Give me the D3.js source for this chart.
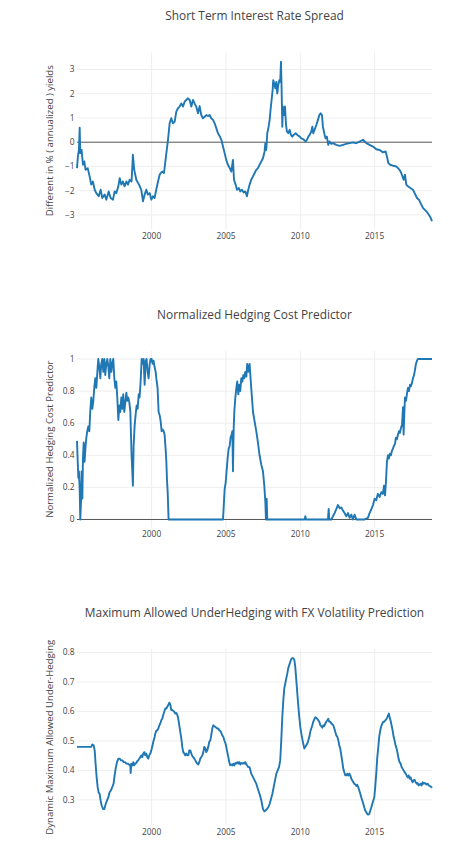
<!DOCTYPE html>
<html><head><meta charset="utf-8">
<script src="https://cdn.jsdelivr.net/npm/d3@7"></script>
<style>html,body{margin:0;padding:0;background:#fff;} svg{display:block;font-family:"Open Sans",sans-serif;}</style>
</head><body><svg id="c" width="474" height="857"></svg>
<script>
const xTickYears = [2000, 2005, 2010, 2015];
const chartTitles = ["Short Term Interest Rate Spread", "Normalized Hedging Cost Predictor", "Maximum Allowed UnderHedging with FX Volatility Prediction"];
const yAxisTitles = ["Different in % ( annualized ) yields", "Normalized Hedging Cost Predictor", "Dynamic Maximum Allowed Under-Hedging"];
const spreadTicks = [-3, -2, -1, 0, 1, 2, 3];
const hedgeTicks = [0, 0.2, 0.4, 0.6, 0.8, 1];
const underTicks = [0.3, 0.4, 0.5, 0.6, 0.7, 0.8];

const spreadData = [[1994.98,-1.07],[1995.04,-0.59],[1995.11,-0.32],[1995.16,0.60],[1995.20,-0.45],[1995.29,-0.32],[1995.38,-0.93],[1995.47,-0.79],[1995.56,-1.14],[1995.70,-1.07],[1995.83,-1.41],[1995.94,-1.75],[1996.05,-1.62],[1996.17,-1.96],[1996.28,-2.10],[1996.44,-2.23],[1996.57,-1.96],[1996.68,-2.30],[1996.84,-2.16],[1996.95,-2.37],[1997.11,-2.03],[1997.24,-2.30],[1997.40,-2.37],[1997.51,-2.03],[1997.62,-2.10],[1997.76,-1.82],[1997.85,-1.48],[1997.96,-1.75],[1998.07,-1.62],[1998.18,-1.82],[1998.30,-1.62],[1998.41,-1.75],[1998.52,-1.55],[1998.65,-1.62],[1998.74,-0.52],[1998.83,-1.14],[1998.97,-1.55],[1999.15,-1.75],[1999.30,-1.96],[1999.42,-2.44],[1999.53,-2.16],[1999.64,-1.96],[1999.75,-2.16],[1999.87,-2.10],[1999.98,-2.37],[2000.09,-2.23],[2000.20,-2.30],[2000.31,-1.96],[2000.43,-1.62],[2000.54,-1.34],[2000.70,-1.21],[2000.83,-1.27],[2000.99,-0.45],[2001.10,0.10],[2001.21,0.78],[2001.32,0.99],[2001.43,0.78],[2001.55,0.85],[2001.66,1.26],[2001.77,1.40],[2001.88,1.47],[2002.00,1.60],[2002.11,1.47],[2002.22,1.67],[2002.33,1.74],[2002.44,1.81],[2002.56,1.74],[2002.67,1.47],[2002.78,1.74],[2002.89,1.60],[2003.00,1.47],[2003.12,1.19],[2003.23,1.49],[2003.34,1.12],[2003.45,0.99],[2003.57,1.05],[2003.68,1.12],[2003.79,1.08],[2003.90,1.12],[2004.01,0.99],[2004.13,0.92],[2004.24,0.78],[2004.35,0.58],[2004.46,0.37],[2004.57,0.26],[2004.69,0.10],[2004.80,-0.18],[2004.91,-0.45],[2005.02,-0.73],[2005.13,-0.93],[2005.25,-1.07],[2005.36,-1.21],[2005.47,-0.73],[2005.54,-1.55],[2005.65,-1.75],[2005.74,-1.96],[2005.87,-1.89],[2005.96,-2.03],[2006.08,-1.96],[2006.19,-2.07],[2006.30,-2.03],[2006.41,-2.23],[2006.50,-1.96],[2006.59,-1.75],[2006.70,-1.55],[2006.82,-1.41],[2006.93,-1.27],[2007.04,-1.14],[2007.15,-1.07],[2007.26,-0.93],[2007.38,-0.79],[2007.49,-0.66],[2007.60,-0.38],[2007.65,-0.04],[2007.71,-0.32],[2007.78,0.37],[2007.87,0.64],[2007.94,0.92],[2008.00,1.33],[2008.07,1.74],[2008.14,2.15],[2008.18,2.56],[2008.25,2.42],[2008.32,2.22],[2008.39,2.49],[2008.45,2.01],[2008.52,2.36],[2008.59,2.56],[2008.65,2.49],[2008.70,3.32],[2008.74,2.29],[2008.79,0.64],[2008.83,1.47],[2008.90,1.12],[2008.97,1.47],[2009.04,0.71],[2009.10,0.44],[2009.19,0.37],[2009.28,0.51],[2009.37,0.30],[2009.46,0.23],[2009.55,0.30],[2009.69,0.37],[2009.80,0.30],[2009.96,0.23],[2010.07,0.16],[2010.22,0.12],[2010.36,0.03],[2010.45,0.10],[2010.54,0.23],[2010.63,0.30],[2010.74,0.44],[2010.81,0.64],[2010.87,0.37],[2010.96,0.51],[2011.08,0.71],[2011.19,0.92],[2011.28,1.12],[2011.37,1.19],[2011.46,1.12],[2011.52,0.64],[2011.64,0.30],[2011.70,0.16],[2011.79,0.23],[2011.88,-0.11],[2011.97,0.03],[2012.09,-0.07],[2012.20,-0.04],[2012.42,-0.11],[2012.65,-0.15],[2012.87,-0.11],[2013.09,-0.07],[2013.32,-0.04],[2013.54,-0.01],[2013.77,-0.04],[2013.99,0.03],[2014.22,0.10],[2014.33,0.03],[2014.44,-0.04],[2014.66,-0.11],[2014.89,-0.18],[2015.11,-0.29],[2015.34,-0.32],[2015.56,-0.42],[2015.74,-0.38],[2015.83,-0.59],[2015.92,-0.86],[2016.05,-0.93],[2016.23,-0.97],[2016.46,-1.00],[2016.68,-1.14],[2016.79,-1.27],[2016.95,-1.55],[2017.04,-1.34],[2017.13,-1.75],[2017.24,-1.82],[2017.40,-1.89],[2017.58,-1.96],[2017.69,-2.10],[2017.85,-2.30],[2017.98,-2.37],[2018.09,-2.51],[2018.25,-2.71],[2018.48,-2.85],[2018.65,-2.99],[2018.77,-3.12],[2018.86,-3.26]];

const hedgeData = [[1994.98,0.49],[1995.02,0.38],[1995.07,0.26],[1995.11,0.30],[1995.16,0.19],[1995.20,0],[1995.25,0.11],[1995.29,0.30],[1995.34,0.13],[1995.38,0.38],[1995.43,0.48],[1995.49,0.36],[1995.56,0.46],[1995.61,0.51],[1995.67,0.55],[1995.74,0.58],[1995.81,0.55],[1995.87,0.67],[1995.94,0.76],[1996.01,0.69],[1996.08,0.74],[1996.14,0.82],[1996.21,0.88],[1996.28,0.82],[1996.35,0.92],[1996.41,1.00],[1996.48,0.95],[1996.55,0.88],[1996.61,0.97],[1996.68,1.00],[1996.75,0.92],[1996.82,1.00],[1996.88,0.90],[1996.95,0.97],[1997.02,1.00],[1997.09,0.95],[1997.15,0.88],[1997.22,1.00],[1997.29,0.92],[1997.35,0.97],[1997.42,1.00],[1997.49,0.88],[1997.56,0.82],[1997.62,0.86],[1997.69,0.76],[1997.76,0.62],[1997.83,0.71],[1997.89,0.67],[1997.96,0.76],[1998.03,0.69],[1998.09,0.78],[1998.16,0.67],[1998.23,0.73],[1998.30,0.79],[1998.36,0.74],[1998.43,0.76],[1998.50,0.73],[1998.57,0.67],[1998.61,0.53],[1998.65,0.40],[1998.70,0.30],[1998.74,0.21],[1998.79,0.46],[1998.86,0.59],[1998.92,0.65],[1998.99,0.71],[1999.06,0.69],[1999.13,0.78],[1999.19,0.76],[1999.26,0.86],[1999.33,1.00],[1999.39,0.97],[1999.46,1.00],[1999.53,0.84],[1999.60,0.99],[1999.66,1.00],[1999.73,0.92],[1999.80,0.88],[1999.87,0.97],[1999.93,1.00],[2000.00,1.00],[2000.07,0.97],[2000.13,0.99],[2000.20,0.95],[2000.27,0.92],[2000.34,0.86],[2000.40,0.82],[2000.47,0.67],[2000.54,0.65],[2000.61,0.61],[2000.67,0.55],[2000.74,0.56],[2000.81,0.55],[2000.87,0.53],[2000.94,0.44],[2000.99,0.36],[2001.03,0.25],[2001.08,0.17],[2001.10,0.11],[2001.14,0],[2004.80,0],[2004.84,0.065],[2004.91,0.19],[2004.98,0.23],[2005.04,0.30],[2005.11,0.38],[2005.18,0.44],[2005.25,0.46],[2005.31,0.51],[2005.38,0.53],[2005.43,0.55],[2005.47,0.30],[2005.52,0.57],[2005.56,0.67],[2005.63,0.76],[2005.70,0.82],[2005.76,0.86],[2005.83,0.78],[2005.90,0.84],[2005.96,0.80],[2006.03,0.88],[2006.10,0.86],[2006.17,0.90],[2006.23,0.88],[2006.30,0.92],[2006.37,0.89],[2006.43,0.97],[2006.50,0.92],[2006.59,0.97],[2006.70,0.82],[2006.82,0.67],[2006.93,0.61],[2007.04,0.55],[2007.15,0.48],[2007.26,0.40],[2007.38,0.34],[2007.49,0.30],[2007.58,0.21],[2007.65,0.11],[2007.69,0],[2007.74,0.13],[2007.78,0],[2010.29,0],[2010.34,0.02],[2010.38,0],[2011.86,0],[2011.91,0.065],[2011.95,0],[2012.09,0],[2012.20,0.02],[2012.31,0.04],[2012.42,0.065],[2012.53,0.09],[2012.65,0.07],[2012.76,0.075],[2012.87,0.055],[2012.98,0.04],[2013.09,0.02],[2013.21,0.04],[2013.32,0.01],[2013.43,0.03],[2013.54,0],[2013.65,0.03],[2013.77,0],[2014.33,0],[2014.55,0.01],[2014.66,0.04],[2014.78,0.065],[2014.89,0.09],[2015.00,0.13],[2015.11,0.12],[2015.22,0.16],[2015.34,0.14],[2015.45,0.17],[2015.56,0.16],[2015.63,0.21],[2015.70,0.15],[2015.76,0.23],[2015.83,0.36],[2015.90,0.40],[2015.96,0.38],[2016.03,0.41],[2016.10,0.40],[2016.17,0.43],[2016.23,0.44],[2016.30,0.46],[2016.37,0.47],[2016.43,0.51],[2016.50,0.50],[2016.57,0.53],[2016.64,0.55],[2016.70,0.54],[2016.77,0.57],[2016.84,0.59],[2016.91,0.70],[2016.95,0.53],[2017.00,0.67],[2017.04,0.76],[2017.11,0.74],[2017.17,0.78],[2017.24,0.82],[2017.31,0.80],[2017.38,0.84],[2017.44,0.83],[2017.51,0.85],[2017.58,0.88],[2017.65,0.90],[2017.71,0.93],[2017.78,0.97],[2017.85,0.99],[2017.91,1.00],[2018.86,1.00]];

const underData = [[1994.98,0.480],[1995.94,0.480],[1996.01,0.488],[1996.10,0.485],[1996.17,0.468],[1996.23,0.423],[1996.30,0.377],[1996.37,0.343],[1996.43,0.326],[1996.50,0.320],[1996.57,0.298],[1996.64,0.281],[1996.73,0.269],[1996.82,0.269],[1996.91,0.286],[1997.00,0.298],[1997.09,0.309],[1997.17,0.326],[1997.26,0.332],[1997.35,0.343],[1997.44,0.355],[1997.51,0.383],[1997.58,0.406],[1997.67,0.428],[1997.76,0.440],[1997.85,0.440],[1997.94,0.434],[1998.03,0.434],[1998.12,0.428],[1998.21,0.428],[1998.30,0.423],[1998.39,0.423],[1998.48,0.420],[1998.57,0.414],[1998.59,0.391],[1998.63,0.423],[1998.70,0.417],[1998.77,0.428],[1998.83,0.417],[1998.90,0.423],[1998.97,0.425],[1999.04,0.432],[1999.10,0.434],[1999.17,0.440],[1999.24,0.445],[1999.30,0.451],[1999.37,0.445],[1999.44,0.457],[1999.51,0.462],[1999.57,0.451],[1999.64,0.457],[1999.71,0.445],[1999.78,0.440],[1999.84,0.451],[1999.91,0.457],[1999.98,0.468],[2000.04,0.480],[2000.11,0.497],[2000.18,0.508],[2000.25,0.525],[2000.31,0.534],[2000.38,0.536],[2000.45,0.542],[2000.52,0.553],[2000.58,0.559],[2000.65,0.570],[2000.72,0.576],[2000.78,0.588],[2000.85,0.599],[2000.92,0.610],[2000.99,0.610],[2001.05,0.616],[2001.12,0.622],[2001.19,0.630],[2001.26,0.622],[2001.32,0.605],[2001.39,0.605],[2001.46,0.602],[2001.52,0.599],[2001.59,0.593],[2001.66,0.595],[2001.73,0.588],[2001.79,0.576],[2001.86,0.553],[2001.93,0.530],[2002.00,0.508],[2002.06,0.480],[2002.13,0.462],[2002.20,0.457],[2002.26,0.451],[2002.33,0.457],[2002.40,0.451],[2002.47,0.451],[2002.53,0.468],[2002.60,0.468],[2002.67,0.457],[2002.74,0.448],[2002.80,0.445],[2002.87,0.440],[2002.94,0.434],[2003.00,0.428],[2003.07,0.423],[2003.14,0.420],[2003.21,0.428],[2003.27,0.440],[2003.34,0.445],[2003.41,0.451],[2003.48,0.462],[2003.54,0.480],[2003.61,0.474],[2003.68,0.462],[2003.74,0.468],[2003.81,0.480],[2003.88,0.497],[2003.95,0.502],[2004.01,0.519],[2004.08,0.542],[2004.15,0.553],[2004.22,0.550],[2004.28,0.548],[2004.35,0.545],[2004.42,0.542],[2004.48,0.542],[2004.55,0.536],[2004.62,0.534],[2004.69,0.527],[2004.75,0.519],[2004.82,0.514],[2004.89,0.502],[2004.96,0.493],[2005.02,0.480],[2005.09,0.462],[2005.16,0.445],[2005.22,0.428],[2005.29,0.417],[2005.36,0.420],[2005.43,0.417],[2005.49,0.423],[2005.56,0.417],[2005.63,0.425],[2005.70,0.423],[2005.76,0.428],[2005.83,0.423],[2005.90,0.428],[2005.96,0.420],[2006.03,0.425],[2006.10,0.423],[2006.17,0.425],[2006.23,0.423],[2006.30,0.428],[2006.37,0.420],[2006.43,0.417],[2006.50,0.411],[2006.59,0.411],[2006.70,0.389],[2006.82,0.377],[2006.93,0.366],[2007.04,0.355],[2007.15,0.337],[2007.26,0.320],[2007.38,0.298],[2007.49,0.269],[2007.58,0.261],[2007.67,0.264],[2007.76,0.269],[2007.85,0.275],[2007.94,0.286],[2008.03,0.303],[2008.12,0.320],[2008.21,0.343],[2008.30,0.366],[2008.39,0.389],[2008.48,0.400],[2008.57,0.411],[2008.65,0.434],[2008.72,0.502],[2008.79,0.582],[2008.86,0.639],[2008.92,0.678],[2008.99,0.695],[2009.06,0.713],[2009.13,0.730],[2009.19,0.747],[2009.26,0.758],[2009.33,0.769],[2009.40,0.778],[2009.46,0.781],[2009.53,0.781],[2009.60,0.775],[2009.66,0.752],[2009.73,0.707],[2009.80,0.661],[2009.87,0.616],[2009.93,0.582],[2010.00,0.548],[2010.07,0.525],[2010.13,0.508],[2010.20,0.491],[2010.27,0.474],[2010.34,0.480],[2010.40,0.485],[2010.47,0.491],[2010.54,0.502],[2010.61,0.514],[2010.67,0.531],[2010.74,0.542],[2010.81,0.553],[2010.87,0.565],[2010.94,0.573],[2011.01,0.580],[2011.08,0.578],[2011.14,0.575],[2011.21,0.570],[2011.28,0.565],[2011.35,0.553],[2011.41,0.550],[2011.48,0.545],[2011.55,0.553],[2011.61,0.550],[2011.68,0.559],[2011.75,0.565],[2011.82,0.570],[2011.88,0.575],[2011.95,0.565],[2012.02,0.565],[2012.09,0.559],[2012.15,0.557],[2012.22,0.553],[2012.29,0.542],[2012.35,0.531],[2012.42,0.519],[2012.49,0.514],[2012.56,0.502],[2012.62,0.485],[2012.69,0.474],[2012.76,0.451],[2012.83,0.428],[2012.89,0.406],[2012.96,0.394],[2013.03,0.383],[2013.09,0.383],[2013.16,0.389],[2013.23,0.383],[2013.30,0.389],[2013.36,0.383],[2013.43,0.372],[2013.50,0.366],[2013.57,0.360],[2013.63,0.355],[2013.70,0.352],[2013.77,0.347],[2013.83,0.351],[2013.90,0.343],[2013.97,0.332],[2014.04,0.320],[2014.10,0.309],[2014.17,0.298],[2014.24,0.286],[2014.30,0.275],[2014.37,0.264],[2014.44,0.258],[2014.51,0.252],[2014.57,0.250],[2014.64,0.252],[2014.71,0.264],[2014.78,0.275],[2014.84,0.286],[2014.91,0.298],[2014.98,0.309],[2015.04,0.343],[2015.11,0.389],[2015.18,0.445],[2015.25,0.480],[2015.31,0.514],[2015.38,0.536],[2015.45,0.550],[2015.52,0.559],[2015.58,0.565],[2015.65,0.565],[2015.72,0.570],[2015.78,0.573],[2015.85,0.580],[2015.92,0.588],[2015.96,0.593],[2016.01,0.580],[2016.07,0.570],[2016.14,0.553],[2016.21,0.536],[2016.28,0.514],[2016.34,0.502],[2016.41,0.485],[2016.48,0.474],[2016.55,0.457],[2016.61,0.440],[2016.68,0.428],[2016.75,0.423],[2016.82,0.411],[2016.88,0.406],[2016.95,0.400],[2017.02,0.394],[2017.09,0.389],[2017.15,0.383],[2017.22,0.377],[2017.29,0.383],[2017.35,0.372],[2017.42,0.377],[2017.49,0.366],[2017.56,0.360],[2017.62,0.366],[2017.69,0.368],[2017.76,0.360],[2017.83,0.355],[2017.89,0.357],[2017.96,0.349],[2018.03,0.352],[2018.09,0.355],[2018.16,0.349],[2018.23,0.360],[2018.30,0.355],[2018.36,0.357],[2018.43,0.355],[2018.50,0.352],[2018.57,0.355],[2018.63,0.349],[2018.70,0.348],[2018.77,0.345],[2018.83,0.343],[2018.86,0.345]];

function toDate(y) {
  const yr = Math.floor(y);
  const s = Date.UTC(yr, 0, 1), e = Date.UTC(yr + 1, 0, 1);
  return new Date(s + (y - yr) * (e - s));
}

const svg = d3.select("#c");
const left = 77, right = 432, plotH = 176.5;
const allYears = spreadData.map(d => d[0]);
const x = d3.scaleTime().domain([toDate(d3.min(allYears)), toDate(d3.max(allYears))]).range([left, right]);

const panels = [
  {data: spreadData, ticks: spreadTicks, domain: [-3.58, 3.70], top: 52.5, zero: true},
  {data: hedgeData, ticks: hedgeTicks, domain: [-0.05, 1.05], top: 351, zero: true},
  {data: underData, ticks: underTicks, domain: [0.213, 0.812], top: 649, zero: false}
];
const fmt = d3.format("~g");

panels.forEach((p, i) => {
  const bottom = p.top + plotH;
  const y = d3.scaleLinear().domain(p.domain).range([bottom, p.top]);
  const g = svg.append("g");
  g.append("g").selectAll("line").data(p.ticks.filter(t => !(p.zero && t === 0))).join("line")
    .attr("x1", left).attr("x2", right).attr("y1", d => y(d)).attr("y2", d => y(d))
    .attr("stroke", "#eee").attr("stroke-width", 1);
  g.append("g").selectAll("line").data(xTickYears).join("line")
    .attr("x1", d => x(toDate(d))).attr("x2", d => x(toDate(d))).attr("y1", p.top).attr("y2", bottom)
    .attr("stroke", "#eee").attr("stroke-width", 1);
  g.append("g").selectAll("text").data(p.ticks).join("text")
    .attr("x", left - 2.5).attr("y", d => y(d)).attr("dy", "0.35em")
    .attr("text-anchor", "end").attr("font-size", 8.4).attr("fill", "#444")
    .text(d => fmt(d));
  g.append("g").selectAll("text").data(xTickYears).join("text")
    .attr("x", d => x(toDate(d))).attr("y", bottom + 7).attr("dy", "0.35em")
    .attr("text-anchor", "middle").attr("font-size", 8.4).attr("fill", "#444")
    .text(d => d);
  if (p.zero) {
    g.append("line").attr("x1", left).attr("x2", right).attr("y1", y(0)).attr("y2", y(0))
      .attr("stroke", "#555").attr("stroke-width", 1);
  }
  const line = d3.line().x(d => x(toDate(d[0]))).y(d => y(d[1]));
  g.append("path").datum(p.data).attr("d", line)
    .attr("fill", "none").attr("stroke", "#1f77b4").attr("stroke-width", 1.9)
    .attr("stroke-linejoin", "round");
  g.append("text").attr("x", (left + right) / 2).attr("y", p.top - 36.5).attr("dy", "0.35em")
    .attr("text-anchor", "middle").attr("font-size", 11.9).attr("fill", "#444")
    .text(chartTitles[i]);
  g.append("text").attr("transform", `translate(49.5,${(p.top + bottom) / 2}) rotate(-90)`)
    .attr("dy", "0.35em").attr("text-anchor", "middle").attr("font-size", 9.6).attr("fill", "#444")
    .text(yAxisTitles[i]);
});
</script></body></html>
